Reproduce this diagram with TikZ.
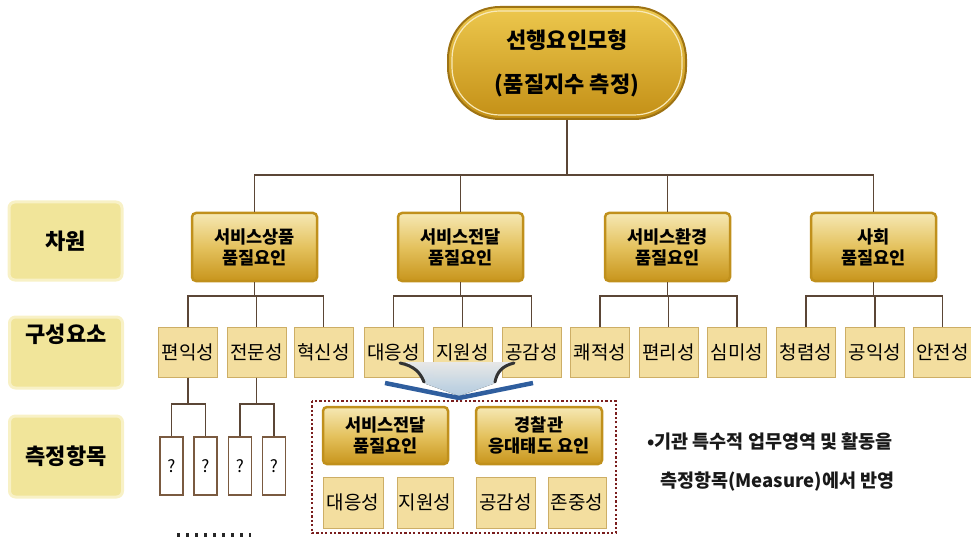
\documentclass[tikz,border=0pt]{standalone}
\usepackage{fontspec}
\newfontfamily\kr{Noto Sans CJK KR}
\usetikzlibrary{calc}
\definecolor{goldedge}{HTML}{C0901C}
\definecolor{goldtop}{HTML}{F6E8B4}
\definecolor{goldmid}{HTML}{E4C25E}
\definecolor{goldbot}{HTML}{C8951C}
\definecolor{pilltop}{HTML}{EDC84E}
\definecolor{pillbot}{HTML}{C38F16}
\definecolor{pilledge}{HTML}{9E7313}
\definecolor{compfill}{HTML}{F3DE9F}
\definecolor{compedge}{HTML}{CDAE66}
\definecolor{labfill}{HTML}{F1E59A}
\definecolor{labedge}{HTML}{F8F1C6}
\definecolor{conncol}{HTML}{5B4636}
\definecolor{qedge}{HTML}{7A5A40}
\definecolor{dotred}{HTML}{7A1E1E}
\definecolor{arrowblue}{HTML}{2F5E9E}
\definecolor{glow}{HTML}{C4E0F6}
\begin{document}
\begin{tikzpicture}[x=1pt,y=-1pt,
  goldbox/.style={draw=goldedge, line width=2.5pt, rounded corners=4pt,
    top color=goldtop, bottom color=goldbot, middle color=goldmid,
    minimum width=125pt, minimum height=68pt, inner sep=0pt, align=center,
    font=\kr\bfseries\fontsize{17.5}{21}\selectfont, text=black},
  comp/.style={draw=compedge, line width=1pt, fill=compfill,
    minimum width=59pt, minimum height=50pt, inner sep=0pt,
    font=\kr\fontsize{19}{22}\selectfont, text=black},
  lab/.style={draw=labedge, line width=3pt, fill=labfill, rounded corners=6pt,
    minimum width=113pt, inner sep=0pt,
    font=\kr\bfseries\fontsize{22}{26}\selectfont, text=black},
  qbox/.style={draw=qedge, line width=1.2pt, fill=white,
    minimum width=23pt, minimum height=58pt, inner sep=0pt,
    font=\kr\fontsize{17}{19}\selectfont},
  conn/.style={draw=conncol, line width=1.5pt},
  note/.style={font=\kr\bfseries\fontsize{18.5}{22}\selectfont, text=black!90, anchor=west, inner sep=0pt}
]
\useasboundingbox (0,0) rectangle (971,537);

% top
\node[draw=pilledge, line width=2pt, rounded corners=52pt, top color=pilltop, bottom color=pillbot,
  minimum width=238pt, minimum height=112pt, inner sep=0pt, align=center,
  font=\kr\bfseries\fontsize{22}{44}\selectfont] (top) at (567,63) {선행요인모형\\(품질지수 측정)};
\draw[draw=white!60!pilltop, line width=1.2pt, rounded corners=48pt]
  ($(top.north west)+(5,5)$) rectangle ($(top.south east)+(-5,-5)$);

% left labels
\node[lab, minimum height=78pt] (L1) at (65.5,241) {차원};
\node[lab, text height=25pt, text depth=46pt] (L2) at (66,352.5) {구성요소};
\node[lab, minimum height=81pt] (L3) at (66,456.5) {측정항목};

% dimension boxes
\node[goldbox] (d1) at (254.5,247) {서비스상품\\품질요인};
\node[goldbox] (d2) at (460.5,247) {서비스전달\\품질요인};
\node[goldbox] (d3) at (667.5,247) {서비스환경\\품질요인};
\node[goldbox] (d4) at (873.5,247) {사회\\품질요인};

% components
\node[comp] (c11) at (188,352) {편익성};
\node[comp] (c12) at (256.5,352) {전문성};
\node[comp] (c13) at (323.5,352) {혁신성};
\node[comp] (c21) at (393.5,352) {대응성};
\node[comp] (c22) at (462.5,352) {지원성};
\node[comp] (c23) at (531.5,352) {공감성};
\node[comp] (c31) at (600,352) {쾌적성};
\node[comp] (c32) at (668.5,352) {편리성};
\node[comp] (c33) at (737,352) {심미성};
\node[comp] (c41) at (806,352) {청렴성};
\node[comp] (c42) at (875,352) {공익성};
\node[comp] (c43) at (942.5,352) {안전성};

% question boxes
\node[qbox] (q1) at (171.5,466) {?};
\node[qbox] (q2) at (205.5,466) {?};
\node[qbox] (q3) at (240,466) {?};
\node[qbox] (q4) at (274,466) {?};

\coordinate (bar1) at (0,175);
\coordinate (bar2) at (0,296);
\coordinate (bar3) at (0,404);

\foreach \d in {d1,d2,d3,d4}
  \draw[conn] (top.south) -- (top.south|-bar1) -| (\d.north);
\foreach \d/\c in {d1/c11,d1/c12,d1/c13,d2/c21,d2/c22,d2/c23,d3/c31,d3/c32,d3/c33,d4/c41,d4/c42,d4/c43}
  \draw[conn] (\d.south) -- (\d.south|-bar2) -| (\c.north);
\foreach \c/\q in {c11/q1,c11/q2,c12/q3,c12/q4}
  \draw[conn] (\c.south) -- (\c.south|-bar3) -| (\q.north);

% dots below
\draw[line width=4pt, dash pattern=on 3pt off 6pt, black!85] (177,535) -- (251,535);

% funnel arrow
\fill[top color=white, bottom color=glow, opacity=0.9]
  (404,362) .. controls (418,368) and (424,376) .. (426,384) -- (459,396) -- (493,384)
  .. controls (496,376) and (502,368) .. (514,362) -- cycle;
\draw[line width=3pt, black!80, line cap=round] (400,363) .. controls (414,366) and (420,372) .. (424,382);
\draw[line width=3pt, black!80, line cap=round] (514,363) .. controls (502,366) and (497,372) .. (495,382);
\draw[line width=4.5pt, arrowblue, line join=round] (385,383) -- (459,398) -- (533,383);

% dotted region
\draw[dotred, line width=2.2pt, dash pattern=on 2.2pt off 2.2pt] (312,401) rectangle (616,533);
\node[goldbox, minimum width=125pt, minimum height=57pt] (g1) at (385.5,435.5) {서비스전달\\품질요인};
\node[goldbox, minimum width=126pt, minimum height=57pt] (g2) at (539,435.5) {경찰관\\응대태도 요인};
\node[comp, minimum width=60pt, minimum height=51pt] (e1) at (353,502.5) {대응성};
\node[comp, minimum width=56pt, minimum height=51pt] (e2) at (425,502.5) {지원성};
\node[comp, minimum width=59pt, minimum height=51pt] (e3) at (505.5,502.5) {공감성};
\node[comp, minimum width=58pt, minimum height=51pt] (e4) at (577,502.5) {존중성};

% note
\node[note] (n1) at (647,442) {•기관 특수적 업무영역 및 활동을};
\node[note] (n2) at (660,482) {측정항목(Measure)에서 반영};
\end{tikzpicture}
\end{document}
